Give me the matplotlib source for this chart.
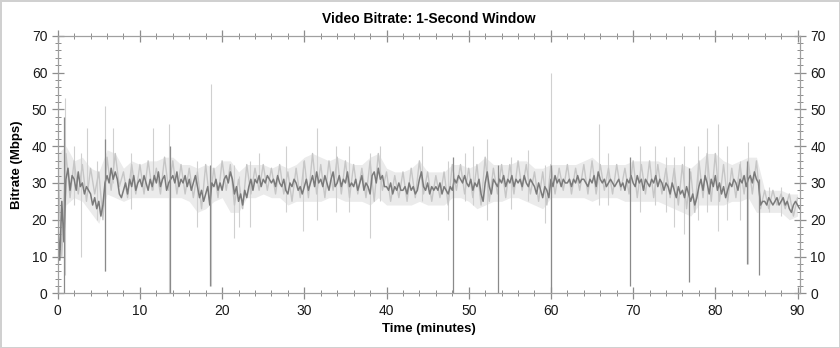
import numpy as np
import matplotlib
matplotlib.use("Agg")
import matplotlib.pyplot as plt
from matplotlib.ticker import MultipleLocator

plt.rcParams['font.family'] = ['Liberation Sans', 'DejaVu Sans']

# dark 1-second trace, one value every 0.25 min (rows of 2 minutes)
step = 0.25
dark_rate = [
    20, 9, 25, 14, 31, 34, 28, 32,
    31, 28, 33, 29, 30, 27, 29, 28,
    27, 24, 26, 23, 25, 21, 24, 30,
    32, 30, 34, 31, 33, 31, 27, 26,
    28, 30, 27, 31, 29, 32, 28, 30,
    31, 29, 32, 30, 28, 31, 29, 32,
    30, 33, 29, 31, 32, 28, 30, 31,
    32, 30, 33, 29, 31, 30, 32, 29,
    31, 28, 30, 32, 29, 26, 28, 25,
    27, 29, 24, 30, 29, 31, 28, 30,
    28, 31, 32, 30, 33, 31, 27, 29,
    25, 27, 24, 28, 26, 29, 31, 28,
    31, 30, 32, 29, 31, 30, 32, 31,
    30, 31, 29, 32, 30, 29, 31, 28,
    27, 30, 29, 31, 30, 28, 29, 27,
    29, 31, 28, 30, 32, 29, 33, 30,
    31, 29, 32, 30, 28, 31, 33, 29,
    30, 32, 29, 31, 30, 33, 29, 30,
    29, 31, 28, 30, 32, 28, 30, 29,
    27, 32, 33, 30, 34, 31, 32, 29,
    29, 28, 30, 27, 29, 28, 30, 28,
    28, 29, 27, 30, 28, 29, 27, 28,
    31, 33, 29, 28, 30, 27, 29, 28,
    29, 28, 30, 27, 29, 28, 27, 29,
    28, 31, 30, 32, 31, 30, 32, 30,
    29, 31, 28, 30, 29, 31, 27, 25,
    30, 33, 29, 27, 31, 30, 29, 31,
    30, 32, 29, 31, 30, 32, 29, 31,
    30, 31, 29, 32, 30, 29, 31, 30,
    29, 27, 30, 28, 26, 29, 28, 26,
    31, 29, 32, 30, 31, 29, 31, 30,
    30, 31, 29, 31, 30, 32, 30, 31,
    31, 30, 29, 31, 30, 32, 29, 33,
    31, 30, 31, 29, 30, 31, 30, 29,
    30, 31, 29, 30, 28, 31, 30, 32,
    30, 29, 32, 30, 31, 28, 31, 30,
    29, 31, 30, 32, 29, 31, 30, 28,
    30, 29, 27, 30, 28, 26, 29, 27,
    28, 26, 29, 27, 25, 27, 24, 26,
    29, 31, 28, 32, 30, 27, 31, 29,
    32, 28, 30, 27, 29, 26, 28, 30,
    29, 31, 30, 28, 31, 30, 32, 29,
    31, 32, 30, 33, 31, 30, 24, 25,
    25, 24, 26, 25, 24, 25, 26, 24,
    25, 26, 24, 25, 23, 22, 24, 25,
    24, 23,
]

# light (peak) trace, one value every 0.5 min (rows of 5 minutes)
light_step = 0.5
light_rate = [
    35, 10, 38, 26, 36, 27, 35, 25, 34, 27,
    33, 20, 37, 28, 38, 29, 33, 26, 35, 27,
    35, 27, 36, 28, 34, 27, 37, 28, 36, 27,
    35, 27, 34, 26, 33, 23, 35, 25, 34, 26,
    36, 28, 35, 24, 31, 23, 35, 27, 34, 28,
    35, 28, 34, 27, 35, 27, 33, 25, 34, 26,
    36, 26, 38, 27, 35, 26, 36, 28, 37, 27,
    36, 26, 35, 27, 34, 26, 36, 25, 38, 28,
    33, 25, 32, 26, 33, 25, 34, 26, 36, 27,
    33, 25, 32, 26, 33, 24, 35, 28, 35, 27,
    34, 26, 35, 24, 37, 25, 34, 27, 35, 26,
    35, 27, 36, 28, 35, 27, 33, 25, 33, 24,
    35, 27, 34, 28, 35, 27, 34, 28, 35, 27,
    36, 27, 35, 28, 34, 27, 35, 28, 34, 27,
    36, 26, 35, 27, 36, 26, 35, 27, 34, 26,
    34, 24, 35, 23, 33, 22, 36, 26, 38, 25,
    38, 25, 35, 25, 34, 26, 35, 27, 36, 27,
    36, 23, 28, 23, 28, 24, 27, 23, 27, 21,
    26,
]

# faint spread of the trace, one value per minute
band_hi = [
    38, 40, 36, 37, 34, 33, 39, 38, 34, 36,
    35, 36, 36, 37, 37, 35, 35, 34, 35, 34,
    36, 36, 33, 35, 35, 35, 34, 35, 34, 35,
    37, 38, 37, 36, 37, 36, 35, 35, 37, 38,
    34, 33, 33, 34, 36, 33, 33, 33, 35, 35,
    34, 35, 37, 35, 35, 35, 36, 36, 34, 34,
    35, 35, 35, 35, 36, 37, 35, 35, 35, 35,
    36, 36, 36, 36, 35, 35, 35, 34, 36, 38,
    38, 36, 35, 36, 37, 37, 28, 28, 28, 27, 27,
]
band_lo = [
    8, 24, 26, 25, 22, 19, 27, 26, 25, 26,
    26, 26, 26, 26, 26, 26, 25, 22, 23, 25,
    26, 22, 22, 26, 26, 27, 26, 26, 24, 25,
    25, 25, 25, 26, 26, 25, 25, 25, 24, 26,
    24, 24, 24, 24, 25, 24, 24, 24, 26, 26,
    25, 23, 24, 25, 25, 26, 26, 25, 24, 23,
    26, 26, 26, 26, 26, 25, 26, 26, 26, 25,
    25, 25, 25, 25, 24, 23, 22, 21, 24, 24,
    24, 24, 25, 25, 26, 22, 22, 22, 22, 20, 21,
]

# single-second outliers (minute, low, high)
dark_spike_t = [0.75, 5.75, 13.6, 18.55, 48.1, 53.6, 60.0, 69.65, 76.85, 83.9, 85.3]
dark_spike_lo = [0, 6, 0, 2, 0, 0, 0, 2, 3, 8, 5]
dark_spike_hi = [48, 42, 40, 35, 37, 35, 35, 37, 34, 36, 31]

light_spike_t = [0.9, 2.0, 2.8, 3.6, 4.8, 5.8, 6.7, 8.9, 11.6, 13.5, 17.0,
                 18.6, 21.5, 22.0, 23.4, 24.5, 27.8, 29.8, 31.6, 33.9, 35.4,
                 38.0, 39.2, 44.3, 47.5, 49.5, 50.5, 52.2, 55.1, 57.2, 59.3,
                 60.05, 65.8, 67.0, 70.8, 72.6, 74.0, 75.0, 76.2, 77.9, 79.0,
                 80.3, 81.4, 83.0, 84.0, 86.5, 88.0]
light_spike_lo = [5, 24, 10, 28, 20, 6, 30, 23, 28, 0, 18,
                  2, 15, 18, 18, 30, 22, 17, 20, 22, 22,
                  15, 25, 25, 20, 25, 24, 20, 23, 25, 19,
                  0, 24, 24, 22, 24, 22, 18, 16, 20, 22,
                  17, 20, 20, 8, 22, 21]
light_spike_hi = [53, 40, 38, 45, 36, 51, 45, 38, 45, 46, 36,
                  57, 35, 32, 36, 38, 40, 36, 45, 40, 40,
                  38, 40, 40, 36, 38, 40, 42, 37, 39, 35,
                  60, 46, 38, 40, 40, 37, 37, 40, 40, 45,
                  46, 40, 36, 41, 29, 29]

dark_t = np.arange(len(dark_rate)) * step
light_t = np.arange(len(light_rate)) * light_step
band_t = np.arange(len(band_hi))

fig = plt.figure(figsize=(8.4, 3.48), dpi=100)
fig.patch.set_edgecolor('#d0d0d0')
fig.patch.set_linewidth(2)
ax = fig.add_axes([0.0687, 0.157, 0.8837, 0.7404])

ax.fill_between(band_t, band_lo, band_hi, color='#ebebeb', lw=0)
ax.vlines(light_spike_t, light_spike_lo, light_spike_hi, color='#d0d0d0', lw=0.8)
ax.plot(light_t, light_rate, color='#c6c6c6', lw=1.0)
ax.plot(dark_t, dark_rate, color='#7a7a7a', lw=1.1)
ax.vlines(dark_spike_t, dark_spike_lo, dark_spike_hi, color='#8a8a8a', lw=0.9)

ax.set_xlim(0, 90.3)
ax.set_ylim(0, 70)
ax.xaxis.set_major_locator(MultipleLocator(10))
ax.xaxis.set_minor_locator(MultipleLocator(2))
ax.yaxis.set_major_locator(MultipleLocator(10))
ax.yaxis.set_minor_locator(MultipleLocator(2))
ax.tick_params(which='both', direction='inout', colors='#8c8c8c',
               labelcolor='#1a1a1a', labelsize=10,
               top=True, right=True, labelright=True)
ax.tick_params(which='major', length=8, width=0.9)
ax.tick_params(which='minor', length=5, width=0.7)
for s in ax.spines.values():
    s.set_color('#a0a0a0')
    s.set_linewidth(0.9)

ax.set_title('Video Bitrate: 1-Second Window', fontsize=10, fontweight='bold', pad=9)
ax.set_xlabel('Time (minutes)', fontsize=9.5, fontweight='bold', labelpad=4)
ax.set_ylabel('Bitrate (Mbps)', fontsize=9.5, fontweight='bold', labelpad=6)

fig.savefig('out.png', dpi=100)
